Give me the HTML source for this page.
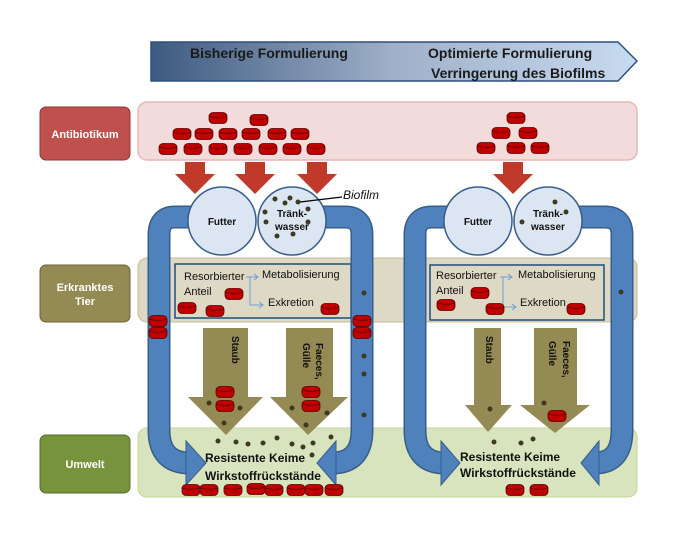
<!DOCTYPE html>
<html><head><meta charset="utf-8"><style>
body{margin:0;background:#fff;}
svg{display:block;font-family:"Liberation Sans",sans-serif;}
.b{font-weight:bold;}
</style></head><body>
<svg width="685" height="541" viewBox="0 0 685 541" xmlns="http://www.w3.org/2000/svg">
<defs>
<linearGradient id="hg" x1="0" x2="1" y1="0" y2="0">
<stop offset="0" stop-color="#3d5a80"/><stop offset="0.5" stop-color="#9fb0c8"/><stop offset="1" stop-color="#c6daf0"/>
</linearGradient>
<g id="cyl"><rect x="-9" y="-5.5" width="18" height="11" rx="4" fill="#c00000" stroke="#5a0000" stroke-width="0.8"/><path d="M-8.5 -2 Q0 1 8.5 -2" fill="none" stroke="#600" stroke-width="0.8"/></g>
<g id="ra"><polygon points="-10,0 10,0 10,12 20,12 0,32 -20,12 -10,12" fill="#c0392b"/></g>
</defs>

<!-- header arrow -->
<polygon points="151,42 618,42 637,61 618,81 151,81" fill="url(#hg)" stroke="#2f4f7f" stroke-width="1.5"/>
<text x="190" y="58" class="b" font-size="14" fill="#1a1a1a">Bisherige Formulierung</text>
<text x="428" y="58" class="b" font-size="14" fill="#1a1a1a">Optimierte Formulierung</text>
<text x="431" y="78" class="b" font-size="14" fill="#1a1a1a">Verringerung des Biofilms</text>

<!-- bands -->
<rect x="138" y="102" width="499" height="58" rx="9" fill="#f2dcdb" stroke="#e6b9b8" stroke-width="1.5"/>
<rect x="138" y="258" width="499" height="64" rx="9" fill="#ddd9c4" stroke="#c4bd97" stroke-width="1"/>
<rect x="138" y="428" width="499" height="69" rx="9" fill="#d7e4bd" stroke="#c3d69b" stroke-width="1"/>

<!-- left labels -->
<rect x="40" y="107" width="90" height="53" rx="6" fill="#c0504d" stroke="#8c3836"/>
<text x="85" y="138" text-anchor="middle" class="b" font-size="11" fill="#fff">Antibiotikum</text>
<rect x="40" y="265" width="90" height="57" rx="6" fill="#948a54" stroke="#6b6339"/>
<text x="85" y="291" text-anchor="middle" class="b" font-size="11" fill="#fff">Erkranktes</text>
<text x="85" y="305" text-anchor="middle" class="b" font-size="11" fill="#fff">Tier</text>
<rect x="40" y="435" width="90" height="58" rx="6" fill="#77933c" stroke="#566b2b"/>
<text x="85" y="468" text-anchor="middle" class="b" font-size="11" fill="#fff">Umwelt</text>

<!-- antibiotic cylinders -->
<use href="#cyl" x="218" y="118"/><use href="#cyl" x="259" y="120"/>
<use href="#cyl" x="182" y="134"/><use href="#cyl" x="204" y="134"/><use href="#cyl" x="228" y="134"/><use href="#cyl" x="251" y="134"/><use href="#cyl" x="277" y="134"/><use href="#cyl" x="300" y="134"/>
<use href="#cyl" x="168" y="149"/><use href="#cyl" x="193" y="149"/><use href="#cyl" x="218" y="149"/><use href="#cyl" x="243" y="149"/><use href="#cyl" x="268" y="149"/><use href="#cyl" x="292" y="149"/><use href="#cyl" x="316" y="149"/>
<use href="#cyl" x="516" y="118"/><use href="#cyl" x="501" y="133"/><use href="#cyl" x="528" y="133"/>
<use href="#cyl" x="486" y="148"/><use href="#cyl" x="516" y="148"/><use href="#cyl" x="540" y="148"/>

<!-- red arrows -->
<use href="#ra" x="195" y="162"/><use href="#ra" x="255" y="162"/><use href="#ra" x="317" y="162"/><use href="#ra" x="513" y="162"/>

<!-- inner boxes -->
<rect x="175" y="264" width="176" height="54" fill="none" stroke="#1f4e79" stroke-width="1.5"/>
<rect x="430" y="265" width="174" height="55" fill="none" stroke="#1f4e79" stroke-width="1.5"/>

<!-- blue pipes -->
<g fill="none" stroke-linejoin="round">
<path d="M200 217 H175 Q159 217 159 235 V430 Q159 463 190 463" stroke="#385d8a" stroke-width="23"/>
<path d="M200 217 H175 Q159 217 159 235 V430 Q159 463 190 463" stroke="#4f81bd" stroke-width="20"/>
<path d="M315 217 H345 Q362 217 362 235 V430 Q362 463 332 463" stroke="#385d8a" stroke-width="23"/>
<path d="M315 217 H345 Q362 217 362 235 V430 Q362 463 332 463" stroke="#4f81bd" stroke-width="20"/>
<path d="M455 217 H432 Q415 217 415 235 V430 Q415 463 445 463" stroke="#385d8a" stroke-width="23"/>
<path d="M455 217 H432 Q415 217 415 235 V430 Q415 463 445 463" stroke="#4f81bd" stroke-width="20"/>
<path d="M570 217 H605 Q622 217 622 235 V430 Q622 463 595 463" stroke="#385d8a" stroke-width="23"/>
<path d="M570 217 H605 Q622 217 622 235 V430 Q622 463 595 463" stroke="#4f81bd" stroke-width="20"/>
</g>
<polygon points="186,441 206,463 186,485" fill="#4f81bd" stroke="#385d8a"/>
<polygon points="336,441 317,463 336,485" fill="#4f81bd" stroke="#385d8a"/>
<polygon points="441,441 460,463 441,485" fill="#4f81bd" stroke="#385d8a"/>
<polygon points="599,441 581,463 599,485" fill="#4f81bd" stroke="#385d8a"/>

<!-- circles -->
<g fill="#dce6f2" stroke="#385d8a" stroke-width="1.5">
<circle cx="222" cy="221" r="34"/><circle cx="292" cy="221" r="34"/>
<circle cx="478" cy="221" r="34"/><circle cx="548" cy="221" r="34"/>
</g>
<g class="b" font-size="10" fill="#111" text-anchor="middle">
<text x="222" y="225">Futter</text>
<text x="292" y="217">Tränk-</text><text x="292" y="230">wasser</text>
<text x="478" y="225">Futter</text>
<text x="548" y="217">Tränk-</text><text x="548" y="230">wasser</text>
</g>
<g fill="#3d3a22">
<circle cx="275" cy="199" r="2.5"/><circle cx="290" cy="198" r="2.5"/><circle cx="285" cy="203" r="2.5"/><circle cx="298" cy="202" r="2.5"/>
<circle cx="265" cy="212" r="2.5"/><circle cx="308" cy="209" r="2.5"/><circle cx="266" cy="222" r="2.5"/><circle cx="308" cy="222" r="2.5"/>
<circle cx="277" cy="236" r="2.5"/><circle cx="293" cy="234" r="2.5"/>
<circle cx="555" cy="202" r="2.5"/><circle cx="566" cy="212" r="2.5"/><circle cx="522" cy="222" r="2.5"/>
</g>
<line x1="300" y1="202" x2="342" y2="197" stroke="#000" stroke-width="1.2"/>
<text x="343" y="199" font-size="12" font-style="italic" fill="#111">Biofilm</text>

<!-- inner box text -->
<g font-size="11" fill="#111">
<text x="184" y="280">Resorbierter</text><text x="184" y="295">Anteil</text>
<text x="262" y="278">Metabolisierung</text><text x="268" y="306">Exkretion</text>
<text x="436" y="279">Resorbierter</text><text x="436" y="294">Anteil</text>
<text x="518" y="278">Metabolisierung</text><text x="520" y="306">Exkretion</text>
</g>
<g fill="none" stroke="#6d9ed6" stroke-width="1">
<path d="M246 277 H258 M254 274 L258 277 L254 280 M250 277 V305 H263 M259 302 L263 305 L259 308"/>
<path d="M500 277 H512 M508 274 L512 277 L508 280 M503 277 V307 H516 M512 304 L516 307 L512 310"/>
</g>
<use href="#cyl" x="234" y="294"/><use href="#cyl" x="187" y="308"/><use href="#cyl" x="215" y="311"/><use href="#cyl" x="330" y="309"/>
<use href="#cyl" x="480" y="293"/><use href="#cyl" x="446" y="305"/><use href="#cyl" x="495" y="309"/><use href="#cyl" x="576" y="309"/>
<use href="#cyl" x="158" y="321"/><use href="#cyl" x="158" y="333"/><use href="#cyl" x="362" y="321"/><use href="#cyl" x="362" y="333"/>
<g fill="#3d3a22"><circle cx="364" cy="293" r="2.5"/><circle cx="364" cy="356" r="2.5"/><circle cx="364" cy="374" r="2.5"/><circle cx="364" cy="415" r="2.5"/><circle cx="621" cy="292" r="2.5"/></g>

<!-- olive arrows -->
<g fill="#948a54">
<polygon points="203,328 248,328 248,397 263,397 226,435 188,397 203,397"/>
<polygon points="286,328 333,328 333,397 348,397 308,435 270,397 286,397"/>
<polygon points="474,328 501,328 501,405 512,405 488,432 465,405 474,405"/>
<polygon points="534,328 577,328 577,405 590,405 555,433 520,405 534,405"/>
</g>
<g class="b" font-size="10" fill="#111">
<text transform="translate(232,336) rotate(90)">Staub</text>
<text transform="translate(316,343) rotate(90)">Faeces,</text>
<text transform="translate(303,343) rotate(90)">Gülle</text>
<text transform="translate(486,336) rotate(90)">Staub</text>
<text transform="translate(563,341) rotate(90)">Faeces,</text>
<text transform="translate(549,341) rotate(90)">Gülle</text>
</g>
<use href="#cyl" x="225" y="392"/><use href="#cyl" x="225" y="406"/><use href="#cyl" x="311" y="392"/><use href="#cyl" x="311" y="406"/>
<use href="#cyl" x="557" y="416"/>
<g fill="#3d3a22">
<circle cx="209" cy="403" r="2.5"/><circle cx="240" cy="408" r="2.5"/><circle cx="224" cy="423" r="2.5"/>
<circle cx="292" cy="408" r="2.5"/><circle cx="327" cy="413" r="2.5"/><circle cx="306" cy="425" r="2.5"/>
<circle cx="218" cy="441" r="2.5"/><circle cx="236" cy="442" r="2.5"/><circle cx="248" cy="444" r="2.5"/><circle cx="263" cy="443" r="2.5"/><circle cx="277" cy="438" r="2.5"/><circle cx="292" cy="444" r="2.5"/><circle cx="303" cy="447" r="2.5"/><circle cx="313" cy="443" r="2.5"/><circle cx="331" cy="437" r="2.5"/><circle cx="312" cy="455" r="2.5"/>
<circle cx="490" cy="409" r="2.5"/><circle cx="544" cy="403" r="2.5"/>
<circle cx="494" cy="442" r="2.5"/><circle cx="521" cy="443" r="2.5"/><circle cx="533" cy="439" r="2.5"/>
</g>
<g class="b" font-size="12" fill="#111">
<text x="205" y="462">Resistente Keime</text><text x="205" y="480">Wirkstoffrückstände</text>
<text x="460" y="461">Resistente Keime</text><text x="460" y="477">Wirkstoffrückstände</text>
</g>
<use href="#cyl" x="191" y="490"/><use href="#cyl" x="209" y="490"/><use href="#cyl" x="233" y="490"/><use href="#cyl" x="256" y="489"/><use href="#cyl" x="274" y="490"/><use href="#cyl" x="296" y="490"/><use href="#cyl" x="314" y="490"/><use href="#cyl" x="334" y="490"/>
<use href="#cyl" x="515" y="490"/><use href="#cyl" x="539" y="490"/>
</svg>
</body></html>
